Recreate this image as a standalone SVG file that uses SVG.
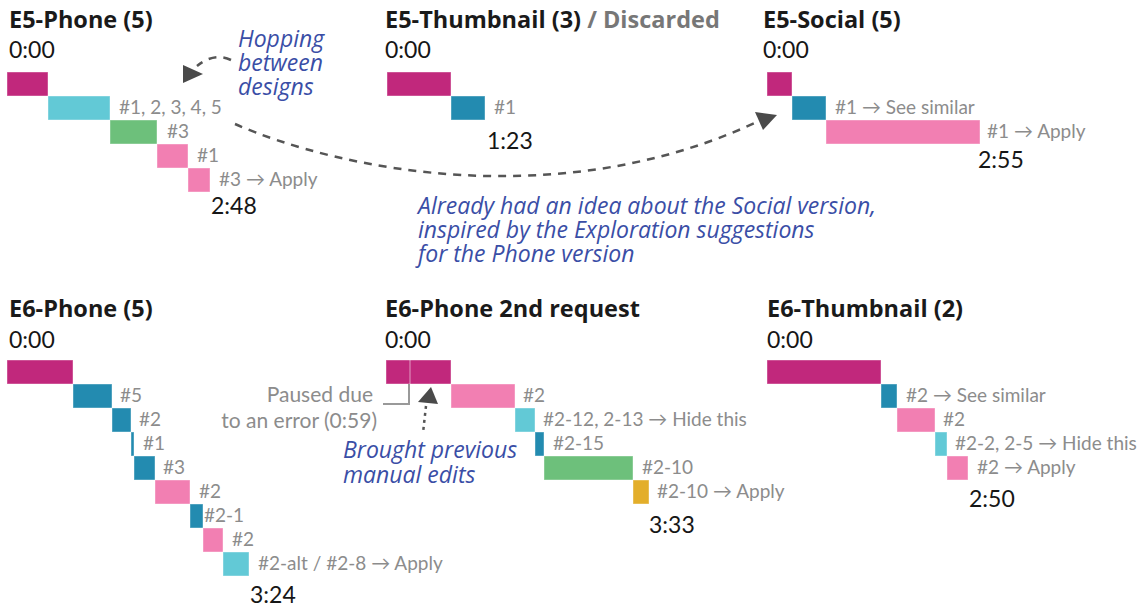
<svg xmlns="http://www.w3.org/2000/svg" width="1142" height="609" viewBox="0 0 1142 609">
<style>
text{font-family:Lato,"Source Sans Pro","Open Sans",sans-serif}
.t{font-family:"Open Sans",Lato,sans-serif;font-size:23.5px;font-weight:bold;fill:#1a1a1a}
.tm{font-size:23px;fill:#161616}
.l{font-size:19px;fill:#8c8c8c}
.a{font-family:"Open Sans",Lato,sans-serif;font-size:23px;font-style:italic;fill:#3a4ea6}
.g{font-size:21px;fill:#8c8c8c}
.bar{stroke:#fff;stroke-opacity:0.4;stroke-width:1}
.mag{fill:#c1287c}.cy{fill:#62c9d6}.gr{fill:#6dc07b}.pk{fill:#f27fb2}.tl{fill:#238bb0}.gd{fill:#e3ae2a}
.dash{fill:none;stroke:#555;stroke-width:2.5;stroke-dasharray:8 7}
.dot{fill:none;stroke:#555;stroke-width:2.5;stroke-dasharray:3 4}
.head{fill:#4a4a4a}
</style>
<rect width="1142" height="609" fill="#fff"/>

<g id="e5-phone">
<text class="t" x="9" y="28">E5-Phone (5)</text>
<text class="tm" x="9" y="58">0:00</text>
<rect class="bar mag" x="7" y="72" width="41" height="24"/>
<rect class="bar cy" x="48" y="96" width="62" height="24"/>
<rect class="bar gr" x="110" y="120" width="47" height="24"/>
<rect class="bar pk" x="157" y="144" width="31" height="24"/>
<rect class="bar pk" x="188" y="168" width="22" height="24"/>
<text class="l" x="119" y="114">#1, 2, 3, 4, 5</text>
<text class="l" x="167" y="138">#3</text>
<text class="l" x="197" y="162">#1</text>
<text class="l" x="219" y="186">#3 → Apply</text>
<text class="tm" x="211" y="214">2:48</text>
</g>

<g id="e5-thumbnail">
<text class="t" x="385" y="28">E5-Thumbnail (3)<tspan fill="#777"> / Discarded</tspan></text>
<text class="tm" x="385" y="58">0:00</text>
<rect class="bar mag" x="387" y="72" width="64" height="24"/>
<rect class="bar tl" x="451" y="96" width="34" height="24"/>
<text class="l" x="494" y="114">#1</text>
<text class="tm" x="487" y="149">1:23</text>
</g>

<g id="e5-social">
<text class="t" x="763" y="28">E5-Social (5)</text>
<text class="tm" x="763" y="58">0:00</text>
<rect class="bar mag" x="767" y="72" width="25" height="24"/>
<rect class="bar tl" x="792" y="96" width="34" height="24"/>
<rect class="bar pk" x="826" y="120" width="154" height="24"/>
<text class="l" x="835" y="114">#1 → See similar</text>
<text class="l" x="987" y="138">#1 → Apply</text>
<text class="tm" x="978" y="168">2:55</text>
</g>

<g id="e6-phone">
<text class="t" x="9" y="317">E6-Phone (5)</text>
<text class="tm" x="9" y="348">0:00</text>
<rect class="bar mag" x="7" y="360" width="66" height="24"/>
<rect class="bar tl" x="73" y="384" width="39" height="24"/>
<rect class="bar tl" x="112" y="408" width="19" height="24"/>
<rect class="bar tl" x="131" y="432" width="3" height="24"/>
<rect class="bar tl" x="134" y="456" width="21" height="24"/>
<rect class="bar pk" x="155" y="480" width="35" height="24"/>
<rect class="bar tl" x="190" y="504" width="13" height="24"/>
<rect class="bar pk" x="203" y="528" width="20" height="24"/>
<rect class="bar cy" x="223" y="552" width="26" height="24"/>
<text class="l" x="120" y="402">#5</text>
<text class="l" x="139" y="426">#2</text>
<text class="l" x="143" y="450">#1</text>
<text class="l" x="163" y="474">#3</text>
<text class="l" x="199" y="498">#2</text>
<text class="l" x="204" y="522">#2-1</text>
<text class="l" x="232" y="546">#2</text>
<text class="l" x="258" y="570">#2-alt / #2-8 → Apply</text>
<text class="tm" x="250" y="603">3:24</text>
</g>

<g id="e6-phone-2nd">
<text class="t" x="385" y="317">E6-Phone 2nd request</text>
<text class="tm" x="385" y="348">0:00</text>
<rect class="bar mag" x="386" y="360" width="65" height="24"/>
<line x1="410" y1="360" x2="410" y2="384" stroke="#fff" stroke-opacity="0.45" stroke-width="1.2"/>
<rect class="bar pk" x="451" y="384" width="64" height="24"/>
<rect class="bar cy" x="515" y="408" width="20" height="24"/>
<rect class="bar tl" x="535" y="432" width="9" height="24"/>
<rect class="bar gr" x="544" y="456" width="89" height="24"/>
<rect class="bar gd" x="633" y="480" width="16" height="24"/>
<text class="l" x="523" y="402">#2</text>
<text class="l" x="543" y="426">#2-12, 2-13 → Hide this</text>
<text class="l" x="553" y="450">#2-15</text>
<text class="l" x="642" y="474">#2-10</text>
<text class="l" x="657" y="498">#2-10 → Apply</text>
<text class="tm" x="649" y="533">3:33</text>
</g>

<g id="e6-thumbnail">
<text class="t" x="767" y="317">E6-Thumbnail (2)</text>
<text class="tm" x="767" y="348">0:00</text>
<rect class="bar mag" x="767" y="360" width="114" height="24"/>
<rect class="bar tl" x="881" y="384" width="16" height="24"/>
<rect class="bar pk" x="897" y="408" width="38" height="24"/>
<rect class="bar cy" x="935" y="432" width="12" height="24"/>
<rect class="bar pk" x="947" y="456" width="21" height="24"/>
<text class="l" x="906" y="402">#2 → See similar</text>
<text class="l" x="943" y="426">#2</text>
<text class="l" x="955" y="450">#2-2, 2-5 → Hide this</text>
<text class="l" x="977" y="474">#2 → Apply</text>
<text class="tm" x="969" y="507">2:50</text>
</g>

<g id="note-hopping">
<text class="a" x="238" y="47">Hopping</text>
<text class="a" x="238" y="71">between</text>
<text class="a" x="238" y="95">designs</text>
</g>

<g id="note-social">
<text class="a" x="418" y="214">Already had an idea about the Social version,</text>
<text class="a" x="418" y="238">inspired by the Exploration suggestions</text>
<text class="a" x="418" y="262">for the Phone version</text>
</g>

<g id="note-paused">
<text class="g" x="373" y="402" text-anchor="end">Paused due</text>
<text class="g" x="377" y="428" text-anchor="end">to an error (0:59)</text>
</g>

<g id="note-brought">
<text class="a" x="343" y="458">Brought previous</text>
<text class="a" x="343" y="483">manual edits</text>
</g>

<g id="connectors">
<path class="dash" d="M231,60 Q214,52 197,66"/>
<polygon class="head" points="183,65 183,83 203,74"/>
<path class="dash" d="M235,124 C340,170 560,215 759,121"/>
<polygon class="head" points="755,112 777,115 763,130"/>
<polyline points="383,404 409,404 409,384" fill="none" stroke="#999" stroke-width="2"/>
<path class="dot" d="M426,406 L423,433"/>
<polygon class="head" points="418,402 438,404 431,387"/>
</g>
</svg>
